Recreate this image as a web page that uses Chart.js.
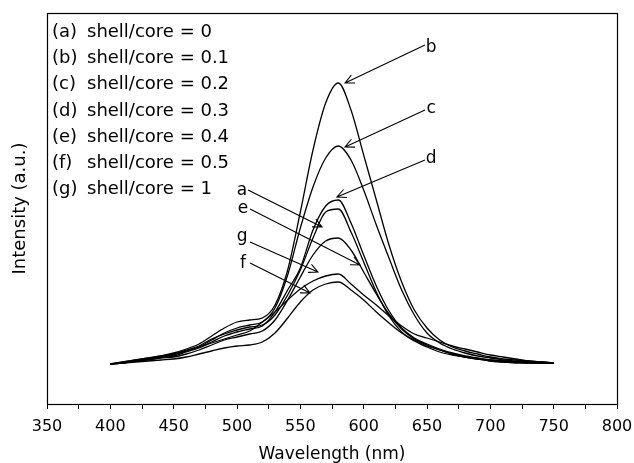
<!DOCTYPE html>
<html>
<head>
<meta charset="utf-8">
<script src="https://cdn.jsdelivr.net/npm/chart.js@4.4.1/dist/chart.umd.min.js"></script>
<style>
  body { margin: 0; background: #fff; }
</style>
</head>
<body>
<canvas id="spectraChart" width="634" height="463"></canvas>
<script>
// wavelength (nm), one reading every 10 nm
var wavelengths = [400,410,420,430,440,450,460,470,480,490,500,510,520,530,540,550,560,570,580,590,600,610,620,630,640,650,660,670,680,690,700,710,720,730,740,750];

// PL intensity (a.u.)
var shellCore0   = [40,42,44,46,48,50,54,58,65,70,74,77,79,89,109,134,166,192,195,172,142,112,88,72,63,57,52,49,47,45,43,42,42,41,41,41];   // (a)
var shellCore01  = [40,42,44,46,48,51,55,60,68,76,82,84,86,99,134,192,254,301,321,294,249,204,159,122,94,76,64,57,53,50,47,45,44,43,42,41]; // (b)
var shellCore02  = [40,41,43,45,47,49,53,57,64,71,76,79,82,96,129,176,217,246,258,244,214,179,146,114,89,71,61,55,51,48,46,44,43,42,42,41]; // (c)
var shellCore03  = [40,41,43,45,47,48,52,56,62,68,72,75,78,92,114,136,174,198,204,181,149,118,93,76,66,60,55,51,48,46,44,43,42,42,41,41];  // (d)
var shellCore04  = [40,41,43,44,46,47,50,54,59,64,67,70,73,84,104,127,149,163,166,154,132,110,90,75,65,59,54,50,47,45,44,43,42,42,41,41];  // (e)
var shellCore05  = [40,41,42,43,44,45,47,50,53,56,58,59,62,71,86,102,114,120,122,114,104,92,81,71,64,58,54,50,47,45,43,42,41,41,41,41];    // (f)
var shellCore1   = [40,41,43,45,47,50,53,57,61,65,69,73,82,92,104,115,123,128,130,120,109,99,88,78,70,66,62,58,55,52,49,47,45,43,42,41];    // (g)

var legendTags  = ['(a)', '(b)', '(c)', '(d)', '(e)', '(f)', '(g)'];
var legendTexts = ['shell/core = 0', 'shell/core = 0.1', 'shell/core = 0.2', 'shell/core = 0.3',
                   'shell/core = 0.4', 'shell/core = 0.5', 'shell/core = 1'];

// curve labels with their arrows, in data units [nm, a.u.]
var labelNames = ['a', 'b', 'c', 'd', 'e', 'f', 'g'];
var labelAt    = [[504, 209], [653.2, 352], [653.2, 291], [653.2, 241], [504.7, 191], [504.7, 136], [504, 163]];
var arrowFrom  = [[508.7, 214], [648.4, 359], [648.4, 294], [648.4, 244], [510.3, 195], [510.3, 141], [510.3, 162]];
var arrowTo    = [[567.1, 177], [585.3, 321], [585.3, 257], [578.9, 207], [597.1, 139], [557.6, 111], [563.9, 132]];

var FONT = "'DejaVu Sans', sans-serif";

var series = [shellCore0, shellCore01, shellCore02, shellCore03, shellCore04, shellCore05, shellCore1];

function toPoints(vals) {
    return wavelengths.map(function(w, i) { return { x: w, y: vals[i] }; });
}

function drawArrow(ctx, x1, y1, x2, y2) {
    var ang = Math.atan2(y1 - y2, x1 - x2);
    var len = 10, spread = 0.45;
    ctx.beginPath();
    ctx.moveTo(x1, y1);
    ctx.lineTo(x2, y2);
    ctx.moveTo(x2 + len * Math.cos(ang + spread), y2 + len * Math.sin(ang + spread));
    ctx.lineTo(x2, y2);
    ctx.lineTo(x2 + len * Math.cos(ang - spread), y2 + len * Math.sin(ang - spread));
    ctx.stroke();
}

var decorations = {
    id: 'decorations',
    afterDraw: function(chart) {
        var ctx = chart.ctx;
        var area = chart.chartArea;
        var xs = chart.scales.x, ys = chart.scales.y;
        ctx.save();

        // frame
        ctx.strokeStyle = '#000';
        ctx.lineWidth = 1.2;
        ctx.strokeRect(area.left + 0.5, area.top + 0.5, area.right - area.left, area.bottom - area.top);

        // legend text block
        ctx.fillStyle = '#000';
        ctx.font = '18px ' + FONT;
        ctx.textAlign = 'left';
        ctx.textBaseline = 'alphabetic';
        for (var i = 0; i < legendTags.length; i++) {
            var by = 37 + i * 26.2;
            ctx.fillText(legendTags[i], area.left + 5, by);
            ctx.fillText(legendTexts[i], area.left + 40, by);
        }

        // curve letters and arrows
        ctx.font = '17px ' + FONT;
        ctx.textAlign = 'center';
        ctx.lineWidth = 1.1;
        for (var k = 0; k < labelNames.length; k++) {
            ctx.fillText(labelNames[k], xs.getPixelForValue(labelAt[k][0]), ys.getPixelForValue(labelAt[k][1]));
            drawArrow(ctx,
                xs.getPixelForValue(arrowFrom[k][0]), ys.getPixelForValue(arrowFrom[k][1]),
                xs.getPixelForValue(arrowTo[k][0]), ys.getPixelForValue(arrowTo[k][1]));
        }
        ctx.restore();
    }
};

var spectra = new Chart(document.getElementById('spectraChart'), {
    type: 'line',
    data: {
        datasets: series.map(function(vals, i) {
            return {
                label: legendTexts[i],
                data: toPoints(vals),
                borderColor: '#000',
                borderWidth: 1.3,
                pointRadius: 0,
                fill: false,
                cubicInterpolationMode: 'monotone'
            };
        })
    },
    options: {
        responsive: false,
        animation: false,
        layout: { padding: { top: 13, right: 17, left: 0, bottom: 0 } },
        plugins: {
            legend: { display: false },
            tooltip: { enabled: false }
        },
        scales: {
            x: {
                type: 'linear',
                min: 350,
                max: 800,
                ticks: {
                    stepSize: 25,
                    maxRotation: 0,
                    autoSkip: false,
                    padding: 8,
                    color: '#000',
                    font: { family: FONT, size: 16 },
                    callback: function(v) { return v % 50 === 0 ? v : ''; }
                },
                grid: { drawOnChartArea: false, tickLength: 5, color: '#000' },
                border: { color: '#000', width: 1 },
                title: {
                    display: true,
                    text: 'Wavelength (nm)',
                    color: '#000',
                    font: { family: FONT, size: 17, lineHeight: 1 },
                    padding: { top: 0, bottom: 0 }
                },
                afterFit: function(s) { s.height = 59; s.paddingLeft = 0; s.paddingRight = 0; }
            },
            y: {
                type: 'linear',
                min: 0,
                max: 391,
                ticks: { display: false },
                grid: { display: false },
                border: { color: '#000', width: 1 },
                title: {
                    display: true,
                    text: 'Intensity (a.u.)',
                    color: '#000',
                    font: { family: FONT, size: 18, lineHeight: 1.2 },
                    padding: { top: 10, bottom: 0 }
                },
                afterFit: function(s) { s.width = 47; }
            }
        }
    },
    plugins: [decorations]
});
</script>
</body>
</html>
